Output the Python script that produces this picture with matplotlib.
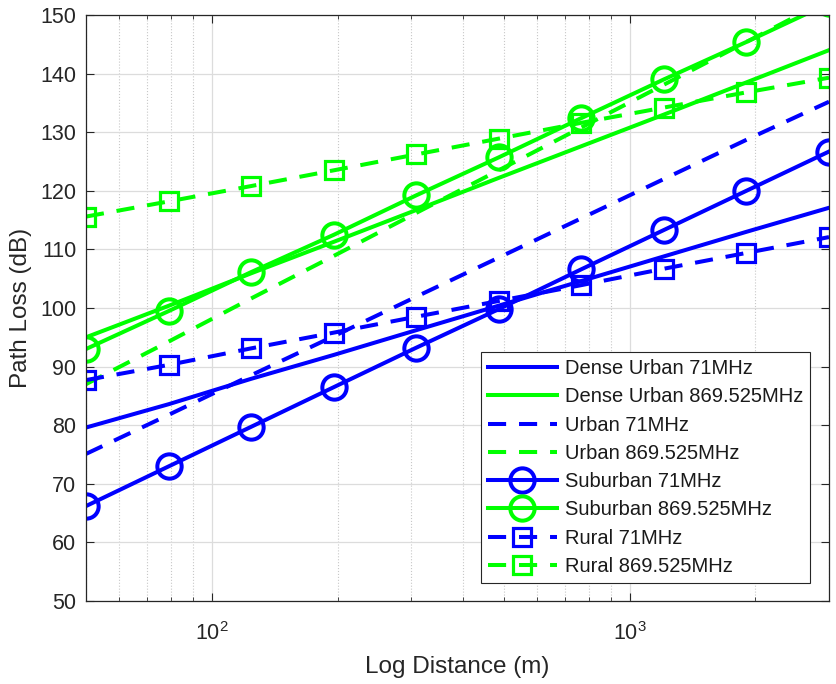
import matplotlib
matplotlib.use("Agg")
import matplotlib.pyplot as plt
from matplotlib.ticker import FixedLocator, NullFormatter, LogLocator

plt.rcParams['font.family'] = ['Liberation Sans', 'DejaVu Sans']
plt.rcParams['mathtext.fontset'] = 'custom'
plt.rcParams['mathtext.rm'] = 'Liberation Sans'

distance = [50, 79, 124, 196, 308, 486, 766, 1207, 1903, 3000]

dense_urban_71 = [79.6, 83.6, 87.9, 92.0, 96.2, 100.4, 104.6, 108.8, 113.0, 117.1]
dense_urban_869 = [95.0, 100.4, 105.9, 111.3, 116.7, 122.2, 127.6, 133.0, 138.5, 144.0]
urban_71 = [75.1, 81.8, 88.5, 95.2, 101.9, 108.6, 115.3, 122.0, 128.7, 135.2]
urban_869 = [87.0, 94.3, 101.6, 108.9, 116.2, 123.5, 130.8, 138.1, 145.4, 152.7]
suburban_71 = [66.2, 73.0, 79.7, 86.5, 93.2, 99.8, 106.6, 113.3, 120.0, 126.7]
suburban_869 = [93.0, 99.5, 106.1, 112.5, 119.2, 125.7, 132.4, 139.0, 145.4, 152.0]
rural_71 = [87.7, 90.3, 93.1, 95.8, 98.5, 101.2, 103.9, 106.7, 109.4, 112.1]
rural_869 = [115.6, 118.2, 120.8, 123.5, 126.2, 128.9, 131.6, 134.2, 136.8, 139.3]

labels = ['Dense Urban 71MHz', 'Dense Urban 869.525MHz', 'Urban 71MHz', 'Urban 869.525MHz',
          'Suburban 71MHz', 'Suburban 869.525MHz', 'Rural 71MHz', 'Rural 869.525MHz']

blue = '#0000ff'
green = '#00ff00'
lw = 2.9
dash = (4.5, 3.2)

fig = plt.figure(figsize=(8.36, 6.84), dpi=100)
ax = fig.add_axes([86/836, 1-601/684, (829-86)/836, (601-15)/684])

ax.plot(distance, dense_urban_71, '-', color=blue, lw=lw, label=labels[0])
ax.plot(distance, dense_urban_869, '-', color=green, lw=lw, label=labels[1])
ax.plot(distance, urban_71, '--', color=blue, lw=lw, dashes=dash, label=labels[2])
ax.plot(distance, urban_869, '--', color=green, lw=lw, dashes=dash, label=labels[3])
ax.plot(distance, suburban_71, '-', color=blue, lw=lw, marker='o', ms=17.5, mfc='none', mew=2.9, label=labels[4])
ax.plot(distance, suburban_869, '-', color=green, lw=lw, marker='o', ms=17.5, mfc='none', mew=2.9, label=labels[5])
ax.plot(distance, rural_71, '--', color=blue, lw=lw, dashes=dash, marker='s', ms=13.5, mfc='none', mew=2.3, label=labels[6])
ax.plot(distance, rural_869, '--', color=green, lw=lw, dashes=dash, marker='s', ms=13.5, mfc='none', mew=2.3, label=labels[7])

ax.set_xscale('log')
ax.set_xlim(50, 3000)
ax.set_ylim(50, 150)
ax.set_yticks(range(50, 151, 10))
ax.xaxis.set_major_locator(FixedLocator([100, 1000]))
ax.set_xticklabels([r'$\mathregular{10^2}$', r'$\mathregular{10^3}$'])
ax.xaxis.set_minor_locator(LogLocator(base=10, subs=range(2, 10), numticks=20))
ax.xaxis.set_minor_formatter(NullFormatter())

ax.grid(True, which='major', color='#dcdcdc', lw=0.9)
ax.grid(True, which='minor', axis='x', color='#c8c8c8', lw=0.8, ls=':')
ax.set_axisbelow(True)

ax.tick_params(which='both', direction='in', top=True, right=True, colors='#262626',
               labelsize=15.5, labelcolor='#262626')
ax.tick_params(which='major', length=6, width=0.8)
ax.tick_params(which='minor', length=3, width=0.6)
ax.tick_params(axis='x', pad=15)
ax.tick_params(axis='y', pad=7)
for s in ax.spines.values():
    s.set_color('#262626')
    s.set_linewidth(0.9)

ax.set_xlabel('Log Distance (m)', fontsize=17.5, color='#262626', labelpad=8)
ax.set_ylabel('Path Loss (dB)', fontsize=17.5, color='#262626', labelpad=6)

leg = ax.legend(loc='lower right', bbox_to_anchor=(0.9745, 0.0307), borderaxespad=0,
                fontsize=14.5, handlelength=3.4, handletextpad=0.4, labelspacing=0.46,
                fancybox=False, framealpha=1, edgecolor='#262626', borderpad=0.35)
leg.get_frame().set_linewidth(0.8)
for t in leg.get_texts():
    t.set_color('#1a1a1a')

fig.savefig('out.png', dpi=100)
